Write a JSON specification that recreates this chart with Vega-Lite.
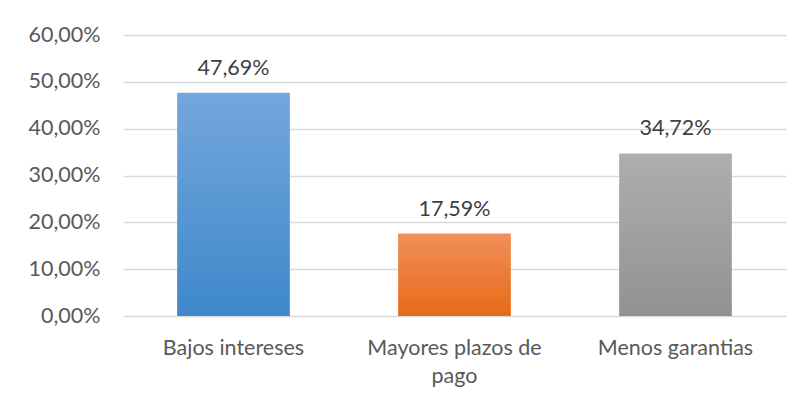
{
  "$schema": "https://vega.github.io/schema/vega-lite/v6.json",
  "autosize": "none",
  "width": 663,
  "height": 281,
  "padding": {"left": 123, "top": 35, "right": 19, "bottom": 89},
  "background": "white",
  "config": {
    "locale": {"number": {"decimal": ",", "thousands": ".", "grouping": [3], "currency": ["", " €"]}},
    "view": {"stroke": null},
    "font": "Lato"
  },
  "data": {"values": [
    {"cat": "Bajos intereses", "value": 0.4769},
    {"cat": "Mayores plazos de pago", "value": 0.1759},
    {"cat": "Menos garantias", "value": 0.3472}
  ]},
  "encoding": {
    "x": {"field": "cat", "type": "nominal", "sort": null,
      "scale": {"paddingInner": 0.49, "paddingOuter": 0.245},
      "axis": {"title": null, "labelAngle": 0, "ticks": false, "domain": false,
        "labelFontSize": 21.5, "labelColor": "#595959", "labelPadding": 21, "labelLineHeight": 28,
        "labelOverlap": false, "labelLimit": 400,
        "labelExpr": "datum.label == 'Mayores plazos de pago' ? ['Mayores plazos de', 'pago'] : datum.label"}},
    "y": {"field": "value", "type": "quantitative",
      "scale": {"domain": [0, 0.6]},
      "axis": {"title": null, "format": ".2%", "values": [0, 0.1, 0.2, 0.3, 0.4, 0.5, 0.6],
        "ticks": false, "domain": false, "gridColor": "#D9D9D9", "gridWidth": 1.5,
        "labelOverlap": false, "labelFontSize": 21.5, "labelColor": "#595959", "labelPadding": 23}}
  },
  "layer": [
    {"transform": [{"filter": "datum.cat == 'Bajos intereses'"}],
     "mark": {"type": "bar", "color": {"gradient": "linear", "x1": 0, "y1": 0, "x2": 0, "y2": 1,
       "stops": [{"offset": 0, "color": "#73A7DC"}, {"offset": 1, "color": "#3F88CB"}]}}},
    {"transform": [{"filter": "datum.cat == 'Mayores plazos de pago'"}],
     "mark": {"type": "bar", "color": {"gradient": "linear", "x1": 0, "y1": 0, "x2": 0, "y2": 1,
       "stops": [{"offset": 0, "color": "#F18E5A"}, {"offset": 1, "color": "#E76A17"}]}}},
    {"transform": [{"filter": "datum.cat == 'Menos garantias'"}],
     "mark": {"type": "bar", "color": {"gradient": "linear", "x1": 0, "y1": 0, "x2": 0, "y2": 1,
       "stops": [{"offset": 0, "color": "#AEAEAE"}, {"offset": 1, "color": "#929292"}]}}},
    {"mark": {"type": "text", "baseline": "alphabetic", "dy": -18, "fontSize": 21.5, "color": "#404040"},
     "encoding": {"text": {"field": "value", "type": "quantitative", "format": ".2%"}}}
  ]
}
